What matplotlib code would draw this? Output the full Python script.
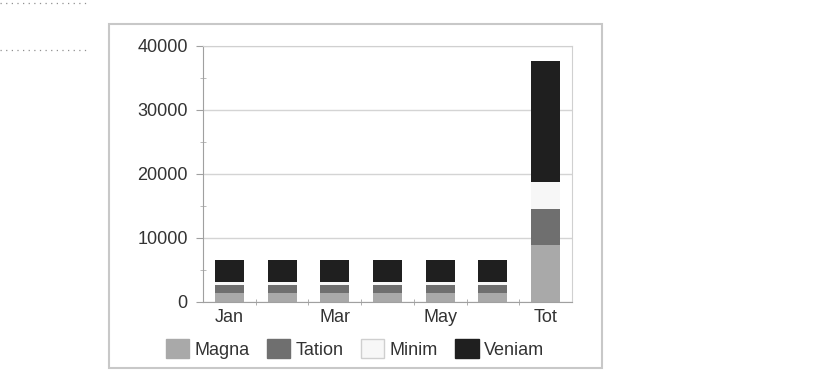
import matplotlib
matplotlib.use("Agg")
import matplotlib.pyplot as plt
from matplotlib.patches import Rectangle
from matplotlib.lines import Line2D
import numpy as np

# values
categories = ["Jan", "Feb", "Mar", "Apr", "May", "Jun", "Tot"]
shown_labels = ["Jan", "", "Mar", "", "May", "", "Tot"]
magna = [1350, 1350, 1350, 1350, 1350, 1350, 8900]
tation = [1300, 1300, 1300, 1300, 1300, 1300, 5600]
minim = [500, 500, 500, 500, 500, 500, 4300]
veniam = [3400, 3400, 3400, 3400, 3400, 3400, 18900]
series_names = ["Magna", "Tation", "Minim", "Veniam"]
colors = ["#a9a9a9", "#6f6f6f", "#f7f7f7", "#1f1f1f"]

plt.rcParams['font.family'] = ['Liberation Sans', 'DejaVu Sans']

fig = plt.figure(figsize=(8.24, 3.91), dpi=100)
W, H = 824.0, 391.0

# outer frame of the chart object
fig.patches.append(Rectangle((109 / W, 1 - 368 / H), (602 - 109) / W, (368 - 24) / H,
                             transform=fig.transFigure, fill=False,
                             edgecolor="#c8c8c8", linewidth=1.5))
# dotted leader lines at the top left
for yy in (2.5, 50):
    fig.lines.append(Line2D([0, 86 / W], [1 - yy / H, 1 - yy / H], transform=fig.transFigure,
                            color="#909090", linestyle=(0, (1, 3.5)), linewidth=0.9))

ax = fig.add_axes([203 / W, 1 - 302 / H, (572 - 203) / W, (302 - 46) / H])

x = np.arange(len(categories))
bottom = np.zeros(len(categories))
handles = []
for name, vals, c in zip(series_names, [magna, tation, minim, veniam], colors):
    ax.bar(x, vals, 0.55, bottom=bottom, color=c, label=name, linewidth=0)
    bottom += np.array(vals)
    handles.append(Rectangle((0, 0), 1, 1, facecolor=c,
                             edgecolor="#cfcfcf" if name == "Minim" else c, linewidth=1))

ax.set_xlim(-0.5, 6.5)
ax.set_ylim(0, 40000)
ax.set_yticks([0, 10000, 20000, 30000, 40000])
ax.set_yticks(np.arange(5000, 40000, 10000), minor=True)
ax.set_xticks(x)
ax.set_xticklabels(shown_labels)
ax.set_xticks(np.arange(0.5, 6.0, 1.0), minor=True)

ax.grid(axis="y", which="major", color="#d4d4d4", linewidth=1)
ax.set_axisbelow(True)
for side in ["left", "bottom"]:
    ax.spines[side].set_color("#a0a0a0")
for side in ["top", "right"]:
    ax.spines[side].set_color("#d0d0d0")

ax.tick_params(axis="y", which="major", length=5, color="#a0a0a0", pad=6,
               labelsize=13, labelcolor="#333333")
ax.tick_params(axis="y", which="minor", length=4, direction="inout", color="#b0b0b0")
ax.tick_params(axis="x", which="major", length=0, pad=5,
               labelsize=13, labelcolor="#333333")
ax.tick_params(axis="x", which="minor", length=5, direction="inout", color="#a0a0a0")

fig.legend(handles, series_names, loc="center", bbox_to_anchor=(355 / W, 1 - 349 / H),
           ncol=4, frameon=False, fontsize=13, handlelength=1.3, handleheight=1.25,
           handletextpad=0.3, columnspacing=0.95, labelcolor="#333333")

fig.savefig("out.png", dpi=100)
